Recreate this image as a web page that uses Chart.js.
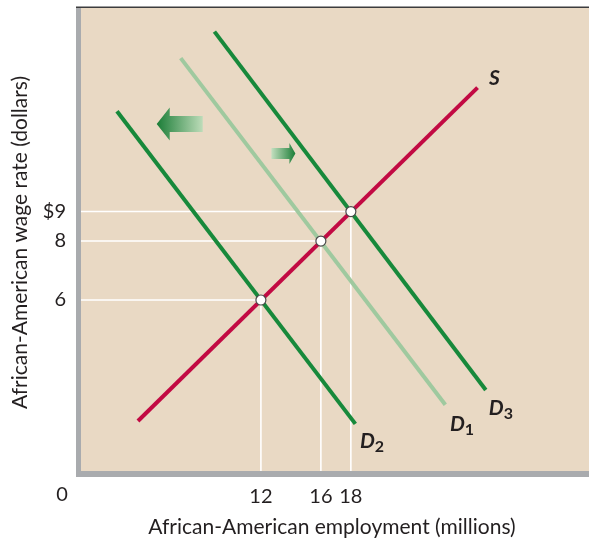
<!DOCTYPE html>
<html>
<head>
<meta charset="utf-8">
<script src="https://cdn.jsdelivr.net/npm/chart.js@4"></script>
<style>
  html, body { margin: 0; padding: 0; background: #fff; overflow: hidden; }
  canvas { display: block; }
</style>
</head>
<body>
<canvas id="laborChart" width="589" height="538"></canvas>
<script>
// Supply curve S and demand curves D1, D2, D3 (x = employment in millions, y = wage in dollars)
const supplyX = [3.8, 26.45];
const supplyY = [1.9, 13.2];
const d1X = [6.65, 24.3];
const d1Y = [14.2, 2.45];
const d2X = [2.4, 18.3];
const d2Y = [12.4, 1.8];
const d3X = [8.9, 27.0];
const d3Y = [15.1, 2.95];

// Equilibrium points
const eqX = [12, 16, 18];
const eqY = [6, 8, 9];

// Tick labels
const xTicks = [12, 16, 18];
const yTicks = [6, 8, 9];
const yTickLabels = ['6', '8', '$9'];

const toPoints = (xs, ys) => xs.map((x, i) => ({ x: x, y: ys[i] }));

// white guide lines from the axes to each equilibrium point
const guides = eqX.map((x, i) => ({
    data: [{ x: 0, y: eqY[i] }, { x: x, y: eqY[i] }, { x: x, y: 0 }],
    borderColor: '#ffffff',
    borderWidth: 1.6,
    pointRadius: 0,
    showLine: true,
    order: 10
}));

const fontFam = 'Lato, "Open Sans", sans-serif';

// background, frame, arrows and curve labels
const decorPlugin = {
    id: 'decor',
    beforeDraw(chart) {
        const { ctx, chartArea: a } = chart;
        ctx.save();
        ctx.fillStyle = '#e9d9c4';
        ctx.fillRect(a.left - 5, a.top, chart.width - a.left + 5, a.bottom - a.top);
        ctx.restore();
    },
    afterDatasetsDraw(chart) {
        const { ctx, chartArea: a, scales } = chart;
        const px = v => scales.x.getPixelForValue(v);
        const py = v => scales.y.getPixelForValue(v);
        const w = chart.width - a.left + 5;
        ctx.save();
        // frame
        ctx.fillStyle = '#a9abae';
        ctx.fillRect(a.left - 5, a.top, 5, a.bottom - a.top);
        ctx.fillRect(a.left - 5, a.bottom - 6, w, 6);
        ctx.fillStyle = '#3c3c3e';
        ctx.fillRect(a.left - 5, a.top - 1.5, w, 1.5);

        // big arrow (left)
        let tx = px(5.05), ty = py(11.97);
        let g = ctx.createLinearGradient(tx, 0, tx + 46, 0);
        g.addColorStop(0, '#1b7d37');
        g.addColorStop(1, '#bddcb9');
        ctx.fillStyle = g;
        ctx.beginPath();
        ctx.moveTo(tx, ty);
        ctx.lineTo(tx + 13, ty - 16.5);
        ctx.lineTo(tx + 13, ty - 8);
        ctx.lineTo(tx + 46, ty - 8);
        ctx.lineTo(tx + 46, ty + 8);
        ctx.lineTo(tx + 13, ty + 8);
        ctx.lineTo(tx + 13, ty + 16.5);
        ctx.closePath();
        ctx.fill();

        // small arrow (right)
        tx = px(14.3); ty = py(10.97);
        g = ctx.createLinearGradient(tx - 24, 0, tx, 0);
        g.addColorStop(0, '#c3dfbf');
        g.addColorStop(1, '#1b7d37');
        ctx.fillStyle = g;
        ctx.beginPath();
        ctx.moveTo(tx, ty);
        ctx.lineTo(tx - 6, ty - 10.5);
        ctx.lineTo(tx - 6, ty - 5.5);
        ctx.lineTo(tx - 24, ty - 5.5);
        ctx.lineTo(tx - 24, ty + 5.5);
        ctx.lineTo(tx - 6, ty + 5.5);
        ctx.lineTo(tx - 6, ty + 10.5);
        ctx.closePath();
        ctx.fill();

        // curve labels
        ctx.fillStyle = '#231f20';
        ctx.textBaseline = 'middle';
        ctx.textAlign = 'center';
        const labels = [
            { t: 'S', sub: '', x: 27.57, y: 13.53 },
            { t: 'D', sub: '3', x: 27.7, y: 2.34 },
            { t: 'D', sub: '1', x: 25.1, y: 1.8 },
            { t: 'D', sub: '2', x: 19.1, y: 1.22 }
        ];
        labels.forEach(l => {
            const lx = px(l.x), ly = py(l.y);
            ctx.font = 'italic bold 21px ' + fontFam;
            ctx.fillText(l.t, lx, ly);
            if (l.sub) {
                ctx.font = 'bold 16px ' + fontFam;
                ctx.fillText(l.sub, lx + 12, ly + 6);
            }
        });

        // origin label
        ctx.font = '20px ' + fontFam;
        ctx.fillStyle = '#231f20';
        ctx.fillText('0', a.left - 19, a.bottom + 18);
        ctx.restore();
    }
};

new Chart(document.getElementById('laborChart'), {
    type: 'scatter',
    data: {
        datasets: [
            ...guides,
            {
                data: toPoints(d1X, d1Y),
                borderColor: '#9fc99f',
                borderWidth: 4,
                pointRadius: 0,
                showLine: true,
                order: 5
            },
            {
                data: toPoints(d2X, d2Y),
                borderColor: '#17893b',
                borderWidth: 4,
                pointRadius: 0,
                showLine: true,
                order: 4
            },
            {
                data: toPoints(d3X, d3Y),
                borderColor: '#17893b',
                borderWidth: 4,
                pointRadius: 0,
                showLine: true,
                order: 4
            },
            {
                data: toPoints(supplyX, supplyY),
                borderColor: '#c20a43',
                borderWidth: 4,
                pointRadius: 0,
                showLine: true,
                order: 3
            },
            {
                data: toPoints(eqX, eqY),
                pointRadius: 5,
                pointBackgroundColor: '#ffffff',
                pointBorderColor: '#4a4a4a',
                pointBorderWidth: 1.2,
                showLine: false,
                order: 1
            }
        ]
    },
    options: {
        responsive: false,
        animation: false,
        layout: { padding: { top: 8, right: 0, left: 0, bottom: 0 } },
        plugins: {
            legend: { display: false },
            tooltip: { enabled: false }
        },
        scales: {
            x: {
                type: 'linear',
                min: 0,
                max: 33.47,
                grid: { display: false },
                border: { display: false },
                afterFit(s) {
                    s.height = 61;
                    s.paddingLeft = 0;
                    s.paddingRight = 0;
                },
                afterBuildTicks(s) { s.ticks = xTicks.map(v => ({ value: v })); },
                ticks: {
                    color: '#231f20',
                    font: { family: fontFam, size: 20 },
                    padding: 0,
                    maxRotation: 0,
                    autoSkip: false
                },
                title: {
                    display: true,
                    text: 'African-American employment (millions)',
                    color: '#231f20',
                    font: { family: fontFam, size: 21, lineHeight: 1.0 },
                    padding: { top: 0, bottom: 0.5 }
                }
            },
            y: {
                type: 'linear',
                min: 0,
                max: 15.9,
                grid: { display: false },
                border: { display: false },
                afterFit(s) {
                    s.width = 81;
                    s.paddingTop = 0;
                    s.paddingBottom = 0;
                },
                afterBuildTicks(s) { s.ticks = yTicks.map(v => ({ value: v })); },
                ticks: {
                    color: '#231f20',
                    font: { family: fontFam, size: 20 },
                    padding: 7,
                    autoSkip: false,
                    callback: v => yTickLabels[yTicks.indexOf(v)]
                },
                title: {
                    display: true,
                    text: 'African-American wage rate (dollars)',
                    color: '#231f20',
                    font: { family: fontFam, size: 21, lineHeight: 1.0 },
                    padding: { top: 9.5, bottom: 0 }
                }
            }
        }
    },
    plugins: [decorPlugin]
});
</script>
</body>
</html>
